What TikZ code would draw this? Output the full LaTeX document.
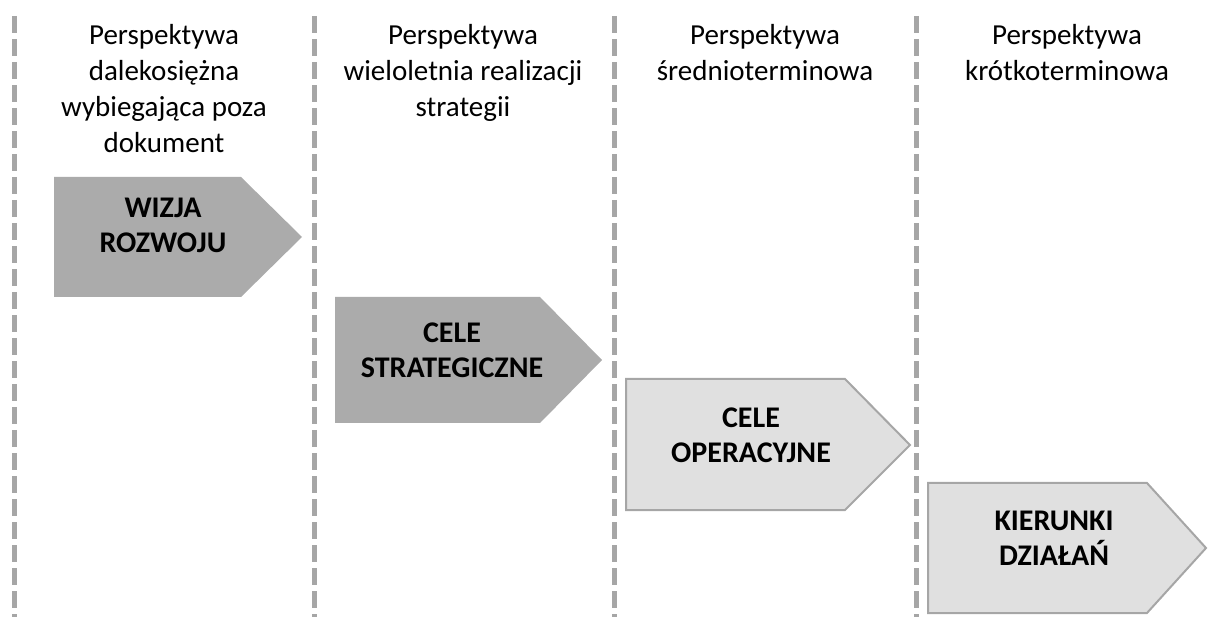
\documentclass[tikz,border=0pt]{standalone}
\usepackage{fontspec}
\setmainfont{Carlito}
\definecolor{dashgray}{HTML}{A6A6A6}
\definecolor{darkfill}{HTML}{ABABAB}
\definecolor{lightfill}{HTML}{E0E0E0}
\definecolor{lightborder}{HTML}{A6A6A6}
\begin{document}
\begin{tikzpicture}[x=1pt,y=-1pt,
  divider/.style={draw=dashgray,line width=5pt,dash pattern=on 17pt off 6pt},
  header/.style={anchor=base,align=center,inner sep=0pt,font=\fontsize{29}{36}\selectfont},
  label/.style={anchor=base,align=center,inner sep=0pt,font=\fontsize{30}{35}\selectfont\bfseries},
  darkarrow/.style={fill=darkfill,draw=none},
  lightarrow/.style={fill=lightfill,draw=lightborder,line width=2pt,line join=miter}]
\useasboundingbox (0,0) rectangle (1208,617);
% dividers
\coordinate (d1t) at (14.5,16); \coordinate (d1b) at (14.5,617);
\coordinate (d2t) at (314.5,16); \coordinate (d2b) at (314.5,617);
\coordinate (d3t) at (614.5,16); \coordinate (d3b) at (614.5,617);
\coordinate (d4t) at (916,16); \coordinate (d4b) at (916,617);
\draw[divider] (d1t) -- (d1b);
\draw[divider] (d2t) -- (d2b);
\draw[divider] (d3t) -- (d3b);
\draw[divider] (d4t) -- (d4b);
% headers (anchor = baseline of the last line)
\node[header] (h1) at (164,153) {Perspektywa\\dalekosiężna\\wybiegająca poza\\dokument};
\node[header] (h2) at (463,117) {Perspektywa\\wieloletnia realizacji\\strategii};
\node[header] (h3) at (765,81) {Perspektywa\\średnioterminowa};
\node[header] (h4) at (1067,81) {Perspektywa\\krótkoterminowa};
% arrows
\path[darkarrow] (54,177) -- (241,177) -- (302,237) -- (241,297) -- (54,297) -- cycle;
\path[darkarrow] (335,297) -- (540,297) -- (602,360) -- (540,423) -- (335,423) -- cycle;
\path[lightarrow] (626,379) -- (845,379) -- (910,445) -- (845,510) -- (626,510) -- cycle;
\path[lightarrow] (928,483) -- (1147,483) -- (1206,548) -- (1147,613) -- (928,613) -- cycle;
% labels (anchor = baseline of the last line)
\node[label] (a1) at (163,253) {WIZJA\\ROZWOJU};
\node[label] (a2) at (452,378) {CELE\\STRATEGICZNE};
\node[label] (a3) at (751,463) {CELE\\OPERACYJNE};
\node[label] (a4) at (1054,565) {KIERUNKI\\DZIAŁAŃ};
\end{tikzpicture}
\end{document}
